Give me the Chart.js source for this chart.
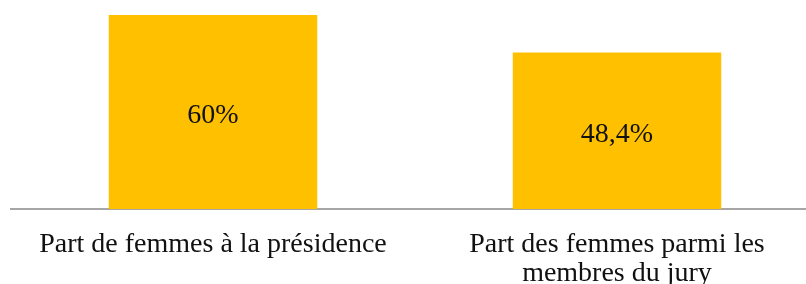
<!DOCTYPE html>
<html lang="fr">
<head>
    <meta charset="UTF-8">
    <title>Part des femmes</title>
    <script src="https://cdn.jsdelivr.net/npm/chart.js"></script>
    <style>
        body {
            margin: 0;
            padding: 0;
            background: #ffffff;
            overflow: hidden;
        }
        #wrap {
            width: 830px;
            height: 284px;
        }
    </style>
</head>
<body>
    <div id="wrap">
        <canvas id="femmesChart" width="830" height="284"></canvas>
    </div>

    <script>
        const categories = [
            'Part de femmes à la présidence',
            ['Part des femmes parmi les', 'membres du jury']
        ];
        const values = [60, 48.4];
        const valueLabels = ['60%', '48,4%'];

        const serif = '"Liberation Serif", "DejaVu Serif", serif';

        // labels in the middle of each bar
        const barLabels = {
            id: 'barLabels',
            afterDatasetsDraw(chart) {
                const ctx = chart.ctx;
                const meta = chart.getDatasetMeta(0);
                ctx.save();
                ctx.font = '28px ' + serif;
                ctx.fillStyle = '#111111';
                ctx.textAlign = 'center';
                ctx.textBaseline = 'middle';
                meta.data.forEach((bar, i) => {
                    const mid = (bar.y + bar.base) / 2;
                    ctx.fillText(valueLabels[i], bar.x, mid + 4);
                });
                ctx.restore();
            }
        };

        new Chart(document.getElementById('femmesChart'), {
            type: 'bar',
            data: {
                labels: categories,
                datasets: [{
                    data: values,
                    backgroundColor: '#FFC000',
                    borderWidth: 0,
                    barPercentage: 0.516,
                    categoryPercentage: 1
                }]
            },
            options: {
                responsive: false,
                animation: false,
                layout: {
                    padding: { left: 11, right: 11, top: 0, bottom: 0 }
                },
                plugins: {
                    legend: { display: false },
                    tooltip: { enabled: false }
                },
                scales: {
                    x: {
                        grid: { display: false, drawTicks: false },
                        border: { display: true, color: '#a6a6a6', width: 2 },
                        ticks: {
                            color: '#111111',
                            font: { family: serif, size: 28, lineHeight: 1.04 },
                            padding: 21,
                            maxRotation: 0,
                            autoSkip: false
                        },
                        afterFit(scale) {
                            scale.height = 75;
                        }
                    },
                    y: {
                        display: false,
                        min: 0,
                        max: 64.6
                    }
                }
            },
            plugins: [barLabels]
        });
    </script>
</body>
</html>
